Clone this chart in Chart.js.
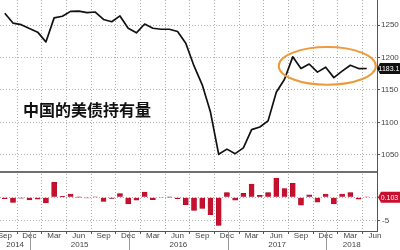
<!DOCTYPE html>
<html>
<head>
<meta charset="utf-8">
<script src="https://cdn.jsdelivr.net/npm/chart.js@4"></script>
<style>
html, body { margin: 0; padding: 0; background: #fff; }
</style>
</head>
<body>
<canvas id="myChart" width="400" height="250"></canvas>
<script>
// Meses (fin de mes), Sep 2014 .. May 2018
var months = ['Sep 2014','Oct 2014','Nov 2014','Dec 2014',
  'Jan 2015','Feb 2015','Mar 2015','Apr 2015','May 2015','Jun 2015','Jul 2015','Aug 2015','Sep 2015','Oct 2015','Nov 2015','Dec 2015',
  'Jan 2016','Feb 2016','Mar 2016','Apr 2016','May 2016','Jun 2016','Jul 2016','Aug 2016','Sep 2016','Oct 2016','Nov 2016','Dec 2016',
  'Jan 2017','Feb 2017','Mar 2017','Apr 2017','May 2017','Jun 2017','Jul 2017','Aug 2017','Sep 2017','Oct 2017','Nov 2017','Dec 2017',
  'Jan 2018','Feb 2018','Mar 2018','Apr 2018','May 2018'];

// Tenencia de bonos (mil millones USD)
var holdings = [1268, 1253, 1250.5, 1244.5,
  1239, 1224, 1261, 1263.5, 1271, 1271.5, 1269, 1270, 1258.5, 1255, 1264, 1245,
  1238, 1251.5, 1245, 1243.5, 1243.5, 1240, 1222, 1187, 1158, 1116, 1051, 1059,
  1052, 1061, 1089, 1093, 1102.5, 1146.5, 1166.5, 1201, 1183, 1190, 1177.5, 1185,
  1169, 1179, 1188, 1183, 1183.1];

// Cambio mensual (%)
var monthlyChange = [-0.3, -1.1, -0.2, -0.55,
  -0.4, -1.2, 3.2, 0.2, 0.7, 0.05, -0.15, 0.1, -0.9, -0.25, 0.8, -1.4,
  -0.6, 1.1, -0.5, -0.1, 0.05, -0.3, -1.6, -2.8, -2.4, -3.7, -6.0, 1.0,
  -0.6, 0.85, 2.8, 0.4, 1.0, 4.1, 1.85, 3.0, -1.7, 0.55, -1.05, 0.7,
  -1.4, 0.7, 1.0, -0.4, 0.103];

var tickIdx = [0, 3, 6, 9, 12, 15, 18, 21, 24, 27, 30, 33, 36, 39, 42, 45];
var tickLabels = ['Sep','Dec','Mar','Jun','Sep','Dec','Mar','Jun','Sep','Dec','Mar','Jun','Sep','Dec','Mar','Jun'];
var years = ['2014', '2015', '2016', '2017', '2018'];
var yTicks = [1050, 1100, 1150, 1200, 1250];
var y2Ticks = [0, -5];
var title = '中国的美债持有量';

var narrow = '"Liberation Sans Narrow", "Liberation Sans", sans-serif';

// indices de diciembre = separadores de año
var yearBreaks = months.map(function(m, i) { return m.indexOf('Dec') === 0 ? i : -1; })
  .filter(function(i) { return i >= 0; });

function drawTag(c, x, y, w, h, fill, text) {
  c.fillStyle = fill;
  c.beginPath();
  c.moveTo(x, y);
  c.lineTo(x + 3, y - h / 2);
  c.lineTo(x + w, y - h / 2);
  c.lineTo(x + w, y + h / 2);
  c.lineTo(x + 3, y + h / 2);
  c.closePath();
  c.fill();
  c.fillStyle = '#fff';
  c.font = '7px ' + narrow;
  c.textAlign = 'center';
  c.textBaseline = 'middle';
  c.fillText(text, x + 2 + (w - 3) / 2, y + 0.5);
}

var overlay = {
  id: 'overlay',
  afterDraw: function(chart) {
    var c = chart.ctx, a = chart.chartArea;
    var xs = chart.scales.x, ys = chart.scales.y, ys2 = chart.scales.y2;
    c.save();

    // separador entre paneles
    c.strokeStyle = '#707070';
    c.lineWidth = 2;
    c.beginPath();
    c.moveTo(a.left, ys2.top);
    c.lineTo(a.right, ys2.top);
    c.stroke();

    // óvalo naranja
    var x1 = xs.getPixelForValue(33.3), x2 = xs.getPixelForValue(45.1);
    var y1 = ys.getPixelForValue(1216), y2 = ys.getPixelForValue(1158);
    c.strokeStyle = '#ee9a3a';
    c.lineWidth = 2;
    c.beginPath();
    c.ellipse((x1 + x2) / 2, (y1 + y2) / 2, (x2 - x1) / 2, (y2 - y1) / 2, 0, 0, Math.PI * 2);
    c.stroke();

    // titulo
    c.fillStyle = '#111';
    c.font = 'bold 16px "Noto Sans CJK SC", sans-serif';
    c.textAlign = 'left';
    c.textBaseline = 'middle';
    c.fillText(title, 23, 110);

    // años
    var bounds = [a.left];
    yearBreaks.forEach(function(i) { bounds.push(xs.getPixelForValue(i + 0.1)); });
    bounds.push(a.right);
    c.strokeStyle = '#999';
    c.lineWidth = 1;
    yearBreaks.forEach(function(i, k) {
      var px = Math.round(bounds[k + 1]) + 0.5;
      c.beginPath();
      c.moveTo(px, a.bottom);
      c.lineTo(px, chart.height);
      c.stroke();
    });
    c.fillStyle = '#444';
    c.font = '8px ' + narrow;
    c.textAlign = 'center';
    years.forEach(function(yr, k) {
      c.fillText(yr, (bounds[k] + bounds[k + 1]) / 2, 244.5);
    });

    // etiquetas del último valor
    var last = holdings.length - 1;
    drawTag(c, a.right, ys.getPixelForValue(holdings[last]), 23, 11, '#111', holdings[last].toFixed(1));
    drawTag(c, a.right + 1, ys2.getPixelForValue(0), 22, 11, '#c8102e', monthlyChange[last].toFixed(3));

    c.restore();
  }
};

var gridColor = '#adadad';
var axisColor = '#555';

function plainLabel(v) { return String(v); }

var ctx = document.getElementById('myChart').getContext('2d');
var myChart = new Chart(ctx, {
  type: 'bar',
  data: {
    datasets: [
      {
        type: 'line',
        label: 'holdings',
        data: holdings.map(function(v, i) { return {x: i, y: v}; }),
        yAxisID: 'y',
        borderColor: '#111',
        borderWidth: 1.7,
        borderJoinStyle: 'round',
        pointRadius: 0,
        tension: 0,
        fill: false
      },
      {
        type: 'bar',
        label: 'change',
        data: monthlyChange.map(function(v, i) { return {x: i, y: v}; }),
        yAxisID: 'y2',
        backgroundColor: '#c8102e',
        borderColor: '#a00c24',
        borderWidth: 0.5,
        barThickness: 5
      }
    ]
  },
  options: {
    responsive: false,
    animation: false,
    devicePixelRatio: 1,
    layout: { padding: 0 },
    plugins: {
      legend: { display: false },
      tooltip: { enabled: false }
    },
    scales: {
      x: {
        type: 'linear',
        min: -0.58,
        max: 45.24,
        offset: false,
        afterBuildTicks: function(s) { s.ticks = tickIdx.map(function(v) { return {value: v}; }); },
        afterFit: function(s) { s.height = 19; s.paddingLeft = 0; s.paddingRight = 0; },
        grid: { color: gridColor, tickColor: axisColor, tickLength: 3, tickBorderDash: [] },
        border: { color: axisColor, width: 1, dash: [1, 2] },
        ticks: {
          autoSkip: false,
          maxRotation: 0,
          padding: -2,
          color: '#444',
          font: { family: narrow, size: 8, lineHeight: 1 },
          callback: function(v) {
            var k = tickIdx.indexOf(v);
            return k >= 0 ? tickLabels[k] : '';
          }
        }
      },
      y: {
        position: 'right',
        stack: 'panels',
        stackWeight: 172,
        min: 1023.8,
        max: 1288.5,
        afterBuildTicks: function(s) { s.ticks = yTicks.map(function(v) { return {value: v}; }); },
        afterFit: function(s) { s.width = 23; s.paddingTop = 0; s.paddingBottom = 0; },
        grid: { color: gridColor, tickColor: axisColor, tickLength: 3, tickBorderDash: [] },
        border: { color: axisColor, width: 1, dash: [1, 2] },
        ticks: { padding: 1, color: '#444', font: { family: narrow, size: 8 }, callback: plainLabel }
      },
      y2: {
        position: 'right',
        stack: 'panels',
        stackWeight: 59,
        min: -7.2,
        max: 5.4,
        afterBuildTicks: function(s) { s.ticks = y2Ticks.map(function(v) { return {value: v}; }); },
        afterFit: function(s) { s.width = 23; s.paddingTop = 0; s.paddingBottom = 0; },
        grid: { color: gridColor, tickColor: axisColor, tickLength: 3, tickBorderDash: [] },
        border: { color: axisColor, width: 1, dash: [1, 2] },
        ticks: { padding: 2, color: '#444', font: { family: narrow, size: 8 }, callback: plainLabel }
      }
    }
  },
  plugins: [overlay]
});
</script>
</body>
</html>
